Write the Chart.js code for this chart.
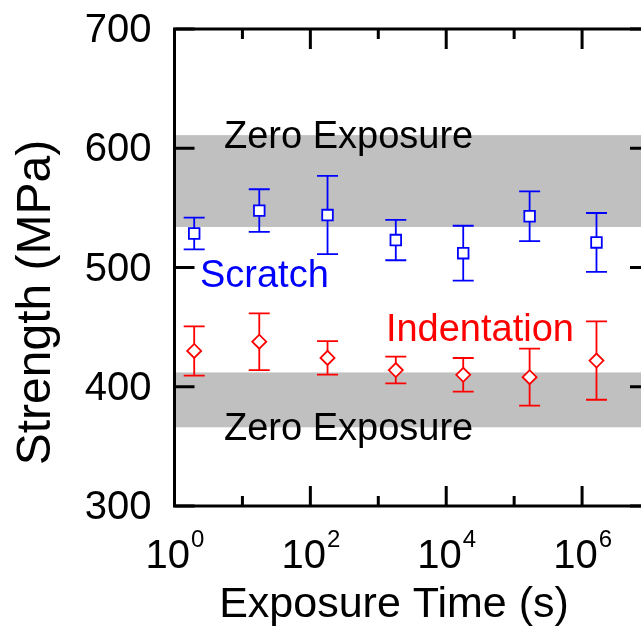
<!DOCTYPE html>
<html>
<head>
<meta charset="utf-8">
<script src="https://cdn.jsdelivr.net/npm/chart.js@4/dist/chart.umd.min.js"></script>
<style>
  html, body { margin: 0; padding: 0; background: #fff; overflow: hidden; }
  #wrap { width: 700px; height: 634px; }
</style>
</head>
<body>
<div id="wrap"><canvas id="c" width="700" height="634"></canvas></div>
<script>
// Exposure times (s) and measured strengths (MPa) with symmetric error bars
const exposureTimes   = [1.95, 17.7, 179, 1810, 17800, 169000, 1630000];
const scratchStrength = [528.5, 547.7, 544, 523, 512, 543, 521];
const scratchError    = [13.3, 17.9, 32.8, 16.9, 23, 20.8, 24.7];
const indentStrength  = [430, 437.8, 424.2, 414, 410, 408, 422];
const indentError     = [20.7, 23.8, 14, 11.2, 14.1, 23.9, 32.9];

// Zero-exposure reference ranges (MPa)
const scratchZeroBand = [534, 611];
const indentZeroBand  = [366, 412];

// Axis ticks
const yTickValues   = [300, 400, 500, 600, 700];
const xMajorTicks   = [1, 100, 10000, 1000000];
const xMajorExps    = ['0', '2', '4', '6'];
const xMinorTicks   = [10, 1000, 100000];

const FONT = '"Liberation Sans", Arial, Helvetica, sans-serif';

// Annotation placement in data units (x: seconds, y: MPa, text baseline)
const notes = [
  { text: 'Zero Exposure', x: 5.35, y: 600, color: '#000000', size: 38 },
  { text: 'Zero Exposure', x: 5.35, y: 355, color: '#000000', size: 38 },
  { text: 'Scratch',       x: 2.37, y: 484, color: '#0000ff', size: 38 },
  { text: 'Indentation',   x: 1294, y: 438, color: '#ff0000', size: 38 }
];

const framePlugin = {
  id: 'framePlugin',
  beforeDatasetsDraw(chart) {
    const { ctx, chartArea: a, scales: { x, y } } = chart;
    ctx.save();

    // grey zero-exposure bands
    ctx.fillStyle = '#c0c0c0';
    [scratchZeroBand, indentZeroBand].forEach(([lo, hi]) => {
      const t = y.getPixelForValue(hi), b = y.getPixelForValue(lo);
      ctx.fillRect(a.left, t, a.right - a.left, b - t);
    });

    // error bars (drawn beneath the markers)
    const errorBars = (vals, errs, color) => {
      ctx.strokeStyle = color;
      ctx.lineWidth = 1.8;
      ctx.lineCap = 'butt';
      vals.forEach((v, i) => {
        const px = x.getPixelForValue(exposureTimes[i]);
        const top = y.getPixelForValue(v + errs[i]);
        const bot = y.getPixelForValue(v - errs[i]);
        ctx.beginPath();
        ctx.moveTo(px, top); ctx.lineTo(px, bot);
        ctx.moveTo(px - 10.5, top); ctx.lineTo(px + 10.5, top);
        ctx.moveTo(px - 10.5, bot); ctx.lineTo(px + 10.5, bot);
        ctx.stroke();
      });
    };
    errorBars(scratchStrength, scratchError, '#0000ff');
    errorBars(indentStrength, indentError, '#ff0000');

    // frame
    ctx.strokeStyle = '#000';
    ctx.lineWidth = 3;
    ctx.lineCap = 'butt';
    ctx.strokeRect(a.left, a.top, a.right - a.left, a.bottom - a.top);

    // inward tick marks on all four sides
    ctx.beginPath();
    yTickValues.forEach(v => {
      const py = y.getPixelForValue(v);
      ctx.moveTo(a.left, py); ctx.lineTo(a.left + 20, py);
      ctx.moveTo(a.right, py); ctx.lineTo(a.right - 20, py);
    });
    xMajorTicks.forEach(v => {
      const px = x.getPixelForValue(v);
      ctx.moveTo(px, a.bottom); ctx.lineTo(px, a.bottom - 20);
      ctx.moveTo(px, a.top); ctx.lineTo(px, a.top + 20);
    });
    xMinorTicks.forEach(v => {
      const px = x.getPixelForValue(v);
      ctx.moveTo(px, a.bottom); ctx.lineTo(px, a.bottom - 10);
      ctx.moveTo(px, a.top); ctx.lineTo(px, a.top + 10);
    });
    ctx.stroke();
    ctx.restore();
  },
  afterDraw(chart) {
    const { ctx, chartArea: a, scales: { x, y } } = chart;
    ctx.save();
    ctx.fillStyle = '#000';

    // y tick labels
    ctx.font = '40px ' + FONT;
    ctx.textAlign = 'right';
    ctx.textBaseline = 'alphabetic';
    yTickValues.forEach(v => {
      ctx.fillText(String(v), a.left - 23, y.getPixelForValue(v) + 13);
    });

    // x tick labels as powers of ten
    ctx.textAlign = 'left';
    xMajorTicks.forEach((v, i) => {
      const px = x.getPixelForValue(v);
      ctx.font = '40px ' + FONT;
      const wb = ctx.measureText('10').width;
      ctx.font = '24px ' + FONT;
      const we = ctx.measureText(xMajorExps[i]).width;
      const x0 = px - (wb + we) / 2;
      ctx.font = '40px ' + FONT;
      ctx.fillText('10', x0, a.bottom + 62);
      ctx.font = '24px ' + FONT;
      ctx.fillText(xMajorExps[i], x0 + wb + 1, a.bottom + 41);
    });

    // axis titles
    ctx.font = '43px ' + FONT;
    ctx.textAlign = 'center';
    ctx.fillText('Exposure Time (s)', 394, a.bottom + 111);

    ctx.save();
    ctx.translate(50, 302.5);
    ctx.rotate(-Math.PI / 2);
    ctx.font = '48px ' + FONT;
    ctx.textAlign = 'center';
    ctx.fillText('Strength (MPa)', 0, 0);
    ctx.restore();

    // in-plot annotations
    ctx.textAlign = 'left';
    notes.forEach(n => {
      ctx.font = n.size + 'px ' + FONT;
      ctx.fillStyle = n.color;
      ctx.fillText(n.text, x.getPixelForValue(n.x), y.getPixelForValue(n.y));
    });
    ctx.restore();
  }
};

const toPoints = vals => vals.map((v, i) => ({ x: exposureTimes[i], y: v }));

new Chart(document.getElementById('c'), {
  type: 'scatter',
  data: {
    datasets: [
      {
        label: 'Scratch',
        data: toPoints(scratchStrength),
        pointStyle: 'rect',
        pointRadius: 7.5,
        pointHoverRadius: 7.5,
        borderColor: '#0000ff',
        backgroundColor: '#ffffff',
        borderWidth: 1.8
      },
      {
        label: 'Indentation',
        data: toPoints(indentStrength),
        pointStyle: 'rectRot',
        pointRadius: 7,
        pointHoverRadius: 7,
        borderColor: '#ff0000',
        backgroundColor: '#ffffff',
        borderWidth: 1.8
      }
    ]
  },
  options: {
    responsive: false,
    devicePixelRatio: 1,
    animation: false,
    events: [],
    layout: { padding: { left: 174.5, top: 29, right: 50, bottom: 128 } },
    plugins: { legend: { display: false }, tooltip: { enabled: false } },
    scales: {
      x: { type: 'logarithmic', min: 1, max: 1e7, display: false },
      y: { type: 'linear', min: 300, max: 700, display: false }
    }
  },
  plugins: [framePlugin]
});
</script>
</body>
</html>
